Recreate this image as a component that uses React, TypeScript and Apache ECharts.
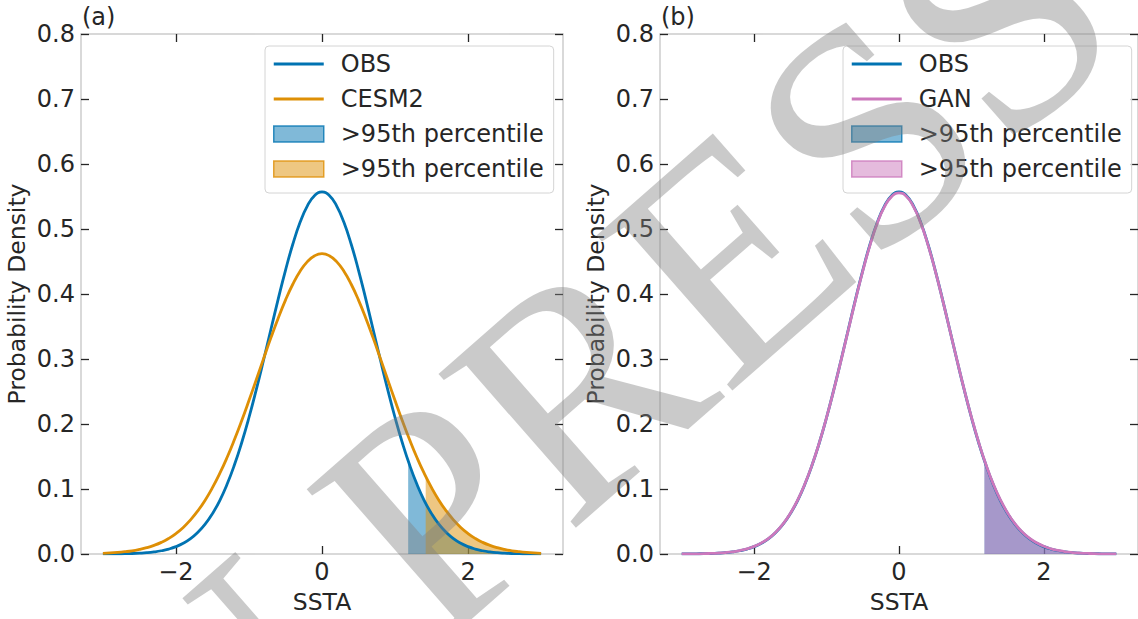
import React, { useEffect, useRef } from "react";
import * as echarts from "echarts";

// x grid of the density curves (SSTA)
const xs = [
  -3.0, -2.9, -2.8, -2.7, -2.6, -2.5, -2.4, -2.3, -2.2, -2.1, -2.0, -1.9, -1.8, -1.7, -1.6, -1.5, -1.4, -1.3, -1.2, -1.1,
  -1.0, -0.9, -0.8, -0.7, -0.6, -0.5, -0.4, -0.3, -0.2, -0.1, 0.0, 0.1, 0.2, 0.3, 0.4, 0.5, 0.6, 0.7, 0.8, 0.9,
  1.0, 1.1, 1.2, 1.3, 1.4, 1.5, 1.6, 1.7, 1.8, 1.9, 2.0, 2.1, 2.2, 2.3, 2.4, 2.5, 2.6, 2.7, 2.8, 2.9, 3.0,
];
// OBS probability density
const obsY = [
  0.0001, 0.0002, 0.0003, 0.0005, 0.0008, 0.0013, 0.002, 0.0032, 0.005, 0.0076, 0.0113, 0.0165, 0.0236, 0.0333, 0.0458,
  0.0621, 0.0823, 0.1072, 0.1368, 0.1712, 0.21, 0.2528, 0.2984, 0.3454, 0.3921, 0.4365, 0.4765, 0.5102, 0.5357, 0.5516,
  0.557,
  0.5516, 0.5357, 0.5102, 0.4765, 0.4365, 0.3921, 0.3454, 0.2984, 0.2528, 0.21, 0.1712, 0.1368, 0.1072, 0.0823, 0.0621,
  0.0458, 0.0333, 0.0236, 0.0165, 0.0113, 0.0076, 0.005, 0.0032, 0.002, 0.0013, 0.0008, 0.0005, 0.0003, 0.0002, 0.0001,
];
// CESM2 probability density (panel a)
const cesmY = [
  0.0011, 0.0016, 0.0024, 0.0035, 0.0049, 0.007, 0.0097, 0.0133, 0.0179, 0.0239, 0.0315, 0.0409, 0.0525, 0.0664, 0.0828,
  0.102, 0.1239, 0.1485, 0.1757, 0.205, 0.2361, 0.2682, 0.3006, 0.3325, 0.3628, 0.3906, 0.415, 0.4349, 0.4498, 0.4589,
  0.462,
  0.4589, 0.4498, 0.4349, 0.415, 0.3906, 0.3628, 0.3325, 0.3006, 0.2682, 0.2361, 0.205, 0.1757, 0.1485, 0.1239, 0.102,
  0.0828, 0.0664, 0.0525, 0.0409, 0.0315, 0.0239, 0.0179, 0.0133, 0.0097, 0.007, 0.0049, 0.0035, 0.0024, 0.0016, 0.0011,
];
// GAN probability density (panel b)
const ganY = [
  0.0001, 0.0002, 0.0003, 0.0005, 0.0009, 0.0014, 0.0022, 0.0034, 0.0053, 0.0079, 0.0117, 0.017, 0.0241, 0.0338, 0.0463,
  0.0626, 0.0828, 0.1076, 0.1371, 0.1713, 0.2101, 0.2525, 0.298, 0.3446, 0.3912, 0.4354, 0.4753, 0.5089, 0.5343, 0.5502,
  0.5555,
  0.5503, 0.5345, 0.5092, 0.4757, 0.4359, 0.3918, 0.3452, 0.2987, 0.2532, 0.2106, 0.1719, 0.1377, 0.1081, 0.0833, 0.063,
  0.0467, 0.0341, 0.0243, 0.0172, 0.0118, 0.008, 0.0054, 0.0034, 0.0022, 0.0014, 0.0009, 0.0005, 0.0003, 0.0002, 0.0001,
];
// 95th percentile thresholds and the curve height there
const obsP95 = [1.18, 0.1433];
const cesmP95 = [1.42, 0.1193];
const ganP95 = [1.18, 0.144];

const xTicks = [-2, 0, 2];

const FONT = "DejaVu Sans";
const INK = "#262626";
const SPINE = "#cccccc";
const C_OBS = "#0173b2";
const C_CESM = "#de8f05";
const C_GAN = "#cc78bc";
const LINE_ICON = "path://M0 0H18V1H0Z";

const pairs = (ys: number[]) => xs.map((x, i) => [x, ys[i]]);
const tail = (ys: number[], p: number[]) => [
  [p[0], p[1]],
  ...xs.map((x, i) => [x, ys[i]]).filter((d) => d[0] > p[0] + 0.05),
];

const legendNames: Record<string, string> = {
  OBS: "OBS",
  CESM2: "CESM2",
  GAN: "GAN",
  p95_obs_a: ">95th percentile",
  p95_cesm: ">95th percentile",
  p95_obs_b: ">95th percentile",
  p95_gan: ">95th percentile",
};

function hexA(hex: string, a: number) {
  const r = parseInt(hex.slice(1, 3), 16);
  const g = parseInt(hex.slice(3, 5), 16);
  const b = parseInt(hex.slice(5, 7), 16);
  return `rgba(${r},${g},${b},${a})`;
}

export default function App() {
  const ref = useRef<HTMLDivElement>(null);
  useEffect(() => {
    if (!ref.current) return;
    const chart = echarts.init(ref.current, null, { renderer: "svg" });

    const grids = [
      { left: 81, top: 34, width: 482, height: 527 },
      { left: 660, top: 34, width: 482, height: 527 },
    ];

    const xAxisBase = (gridIndex: number, position: string, main: boolean) => ({
      type: "value",
      gridIndex,
      position,
      min: -3.3,
      max: 3.3,
      name: main ? "SSTA" : "",
      nameLocation: "middle",
      nameGap: 36,
      nameTextStyle: { fontSize: 23.5, color: INK, fontFamily: FONT },
      axisLine: { show: true, onZero: false, lineStyle: { color: SPINE, width: 1.5 } },
      axisTick: { show: true, inside: true, length: 8, customValues: xTicks, lineStyle: { color: INK, width: 1.3 } },
      axisLabel: {
        show: main,
        customValues: xTicks,
        margin: 6,
        fontSize: 24,
        color: INK,
        fontFamily: FONT,
        formatter: (v: number) => (v < 0 ? "\u2212" + Math.abs(v) : String(v)),
      },
      splitLine: { show: false },
    });

    const yAxisBase = (gridIndex: number, position: string, main: boolean) => ({
      type: "value",
      gridIndex,
      position,
      min: 0,
      max: 0.8,
      interval: 0.1,
      name: main ? "Probability Density" : "",
      nameLocation: "middle",
      nameGap: 52,
      nameTextStyle: { fontSize: 23.5, color: INK, fontFamily: FONT },
      axisLine: { show: true, onZero: false, lineStyle: { color: SPINE, width: 1.5 } },
      axisTick: { show: true, inside: true, length: 8, lineStyle: { color: INK, width: 1.3 } },
      axisLabel: {
        show: main,
        margin: 6,
        fontSize: 24,
        color: INK,
        fontFamily: FONT,
        formatter: (v: number) => v.toFixed(1),
      },
      splitLine: { show: false },
    });

    const curve = (name: string, ys: number[], color: string, ax: number) => ({
      name,
      type: "line",
      xAxisIndex: ax,
      yAxisIndex: ax,
      data: pairs(ys),
      smooth: true,
      symbol: "none",
      color,
      lineStyle: { color, width: 2.8 },
      z: 5,
    });

    const fill = (name: string, ys: number[], p: number[], color: string, ax: number) => ({
      name,
      type: "line",
      xAxisIndex: ax,
      yAxisIndex: ax,
      data: tail(ys, p),
      smooth: true,
      symbol: "none",
      color,
      lineStyle: { color: hexA(color, 0.5), width: 1 },
      areaStyle: { color, opacity: 0.5 },
      z: 2,
    });

    const legendBase = (left: number) => ({
      left,
      top: 46,
      orient: "vertical",
      itemWidth: 50,
      itemHeight: 16,
      itemGap: 11,
      padding: [6, 10, 12, 8],
      backgroundColor: "rgba(255,255,255,0.8)",
      borderColor: "#d4d4d4",
      borderWidth: 1,
      borderRadius: 4,
      selectedMode: false,
      symbolKeepAspect: true,
      formatter: (n: string) => legendNames[n] || n,
      textStyle: { fontSize: 24, color: INK, fontFamily: FONT, padding: [0, 0, 0, 12] },
    });

    const lineItem = (name: string, color: string) => ({
      name,
      icon: LINE_ICON,
      itemStyle: { color, borderWidth: 0 },
    });

    const patch = (name: string, color: string) => ({
      name,
      icon: "rect",
      itemStyle: { color: hexA(color, 0.5), borderColor: hexA(color, 0.8), borderWidth: 1.5 },
    });

    chart.setOption({
      animation: false,
      backgroundColor: "#ffffff",
      grid: grids,
      xAxis: [xAxisBase(0, "bottom", true), xAxisBase(0, "top", false), xAxisBase(1, "bottom", true), xAxisBase(1, "top", false)],
      yAxis: [yAxisBase(0, "left", true), yAxisBase(0, "right", false), yAxisBase(1, "left", true), yAxisBase(1, "right", false)],
      legend: [
        { ...legendBase(265), data: [lineItem("OBS", C_OBS), lineItem("CESM2", C_CESM), patch("p95_obs_a", C_OBS), patch("p95_cesm", C_CESM)] },
        { ...legendBase(843), data: [lineItem("OBS", C_OBS), lineItem("GAN", C_GAN), patch("p95_obs_b", C_OBS), patch("p95_gan", C_GAN)] },
      ],
      series: [
        fill("p95_obs_a", obsY, obsP95, C_OBS, 0),
        fill("p95_cesm", cesmY, cesmP95, C_CESM, 0),
        curve("OBS", obsY, C_OBS, 0),
        curve("CESM2", cesmY, C_CESM, 0),
        fill("p95_obs_b", obsY, obsP95, C_OBS, 2),
        fill("p95_gan", ganY, ganP95, C_GAN, 2),
        curve("OBS", obsY, C_OBS, 2),
        curve("GAN", ganY, C_GAN, 2),
      ],
      graphic: [
        {
          type: "text",
          x: 82,
          y: 17,
          style: { text: "(a)", font: `24px "${FONT}"`, fill: INK, textVerticalAlign: "middle", verticalAlign: "middle" },
        },
        {
          type: "text",
          x: 661,
          y: 17,
          style: { text: "(b)", font: `24px "${FONT}"`, fill: INK, textVerticalAlign: "middle", verticalAlign: "middle" },
        },
        {
          type: "text",
          x: 560,
          y: 400,
          rotation: 0.72,
          z: 100,
          silent: true,
          style: {
            text: "IN PRESS",
            font: '315px "Liberation Serif"',
            fill: "rgba(128,128,128,0.42)",
            textAlign: "center",
            align: "center",
            textVerticalAlign: "middle",
            verticalAlign: "middle",
          },
        },
      ],
    });
    return () => chart.dispose();
  }, []);
  return <div ref={ref} style={{ position: "fixed", left: 0, top: 0, width: 1138, height: 619 }} />;
}
